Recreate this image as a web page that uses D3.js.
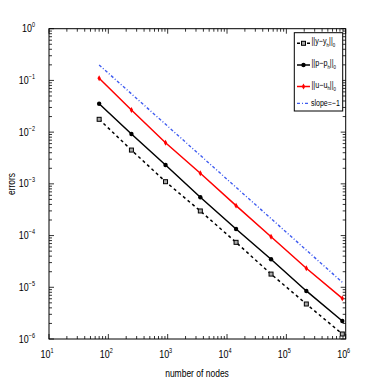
<!DOCTYPE html>
<html>
<head>
<meta charset="utf-8">
<script src="https://cdn.jsdelivr.net/npm/d3@7"></script>
<style>
  body { margin: 0; background: #fff; }
  svg text { font-family: "Liberation Sans", Arial, sans-serif; fill: #000; }
</style>
</head>
<body>
<svg id="chart" width="382" height="382"></svg>
<script>
"use strict";

// number of nodes
const nodes = [70, 245, 920, 3550, 14200, 55200, 217000, 877000];

// error series
const err_y = [0.0177, 4.5e-3, 1.1e-3, 2.99e-4, 7.4e-5, 1.8e-5, 4.75e-6, 1.25e-6];
const err_p = [0.0355, 9.2e-3, 2.32e-3, 5.5e-4, 1.34e-4, 3.48e-5, 8.5e-6, 2.23e-6];
const err_u = [0.110, 0.0268, 6.25e-3, 1.6e-3, 3.79e-4, 9.5e-5, 2.33e-5, 6.1e-6];

// reference slope line, endpoints
const slope_x = [70, 877000];
const slope_v = [0.199, 1.25e-5];

const x_ticks = [1e1, 1e2, 1e3, 1e4, 1e5, 1e6];
const y_ticks = [1e0, 1e-1, 1e-2, 1e-3, 1e-4, 1e-5, 1e-6];

const svg = d3.select("#chart");

const ax_left = 49, ax_right = 345.7, ax_top = 28.7, ax_bottom = 339;

const x_scale = d3.scaleLog().domain([1e1, 1e6]).range([ax_left, ax_right]);
const y_scale = d3.scaleLog().domain([1e-6, 1e0]).range([ax_bottom, ax_top]);

// axes box
svg.append("rect")
  .attr("x", ax_left).attr("y", ax_top)
  .attr("width", ax_right - ax_left).attr("height", ax_bottom - ax_top)
  .attr("fill", "none").attr("stroke", "#000").attr("stroke-width", 1);

// ticks, inward, mirrored
let minor_x = x_scale.ticks();
let minor_y = y_scale.ticks();
let tk = svg.append("g").attr("stroke", "#000").attr("stroke-width", 0.8);
for (let v of minor_x) {
  let is_major = x_ticks.some(t => Math.abs(t - v) / t < 1e-9);
  let len = is_major ? 5 : 3;
  let xx = x_scale(v);
  tk.append("line").attr("x1", xx).attr("x2", xx).attr("y1", ax_bottom).attr("y2", ax_bottom - len);
  tk.append("line").attr("x1", xx).attr("x2", xx).attr("y1", ax_top).attr("y2", ax_top + len);
}
for (let v of minor_y) {
  let is_major = y_ticks.some(t => Math.abs(t - v) / t < 1e-9);
  let len = is_major ? 5 : 3;
  let yy = y_scale(v);
  tk.append("line").attr("y1", yy).attr("y2", yy).attr("x1", ax_left).attr("x2", ax_left + len);
  tk.append("line").attr("y1", yy).attr("y2", yy).attr("x1", ax_right).attr("x2", ax_right - len);
}

// tick labels (condensed like the original)
for (let v of x_ticks) {
  let t = svg.append("text")
    .attr("transform", "translate(" + (x_scale(v) - 2) + ",358) scale(0.85,1)")
    .attr("text-anchor", "middle").attr("font-size", 10.5);
  t.append("tspan").text("10");
  t.append("tspan").attr("dy", -5).attr("font-size", 6.5).text(Math.round(Math.log10(v)));
}
for (let v of y_ticks) {
  let e = Math.round(Math.log10(v));
  let t = svg.append("text")
    .attr("transform", "translate(35," + (y_scale(v) + 3.5) + ") scale(0.85,1)")
    .attr("text-anchor", "end").attr("font-size", 10.5);
  t.append("tspan").text("10");
  t.append("tspan").attr("dy", -5).attr("font-size", 6.5).text(e === 0 ? "0" : "\u2212" + (-e));
}

// axis titles
svg.append("text")
  .attr("transform", "translate(197,377) scale(0.85,1)")
  .attr("text-anchor", "middle").attr("font-size", 10)
  .text("number of nodes");
svg.append("text")
  .attr("transform", "translate(15,184) rotate(-90) scale(0.85,1)")
  .attr("text-anchor", "middle").attr("font-size", 10)
  .text("errors");

// series
const line_gen = d3.line().x(d => x_scale(d[0])).y(d => y_scale(d[1]));

svg.append("path")
  .datum(d3.zip(slope_x, slope_v))
  .attr("d", line_gen)
  .attr("fill", "none").attr("stroke", "#3f5cf0").attr("stroke-width", 1.4)
  .attr("stroke-dasharray", "3,2,1,2");

svg.append("path")
  .datum(d3.zip(nodes, err_u))
  .attr("d", line_gen)
  .attr("fill", "none").attr("stroke", "#ff0000").attr("stroke-width", 1.5);

svg.append("path")
  .datum(d3.zip(nodes, err_p))
  .attr("d", line_gen)
  .attr("fill", "none").attr("stroke", "#000").attr("stroke-width", 1.5);

svg.append("path")
  .datum(d3.zip(nodes, err_y))
  .attr("d", line_gen)
  .attr("fill", "none").attr("stroke", "#000").attr("stroke-width", 1.5)
  .attr("stroke-dasharray", "3,3");

// markers
const mk = svg.append("g");
mk.selectAll(".m_y").data(d3.zip(nodes, err_y)).join("rect")
  .attr("x", d => x_scale(d[0]) - 2).attr("y", d => y_scale(d[1]) - 2)
  .attr("width", 4).attr("height", 4)
  .attr("fill", "#aaa").attr("stroke", "#000").attr("stroke-width", 1);
mk.selectAll(".m_p").data(d3.zip(nodes, err_p)).join("circle")
  .attr("cx", d => x_scale(d[0])).attr("cy", d => y_scale(d[1])).attr("r", 2.2)
  .attr("fill", "#000");
mk.selectAll(".m_u").data(d3.zip(nodes, err_u)).join("path")
  .attr("transform", d => "translate(" + x_scale(d[0]) + "," + y_scale(d[1]) + ")")
  .attr("d", d3.symbol(d3.symbolDiamond, 10))
  .attr("fill", "#ff0000");

// legend
const lg_x = 294.3, lg_y = 32.7, lg_w = 48.4, lg_h = 78.3;
svg.append("rect")
  .attr("x", lg_x).attr("y", lg_y).attr("width", lg_w).attr("height", lg_h)
  .attr("fill", "#fff").attr("stroke", "#000").attr("stroke-width", 1);

const legend_items = [
  { a: "y", b: "y", color: "#000", dash: "3,2", mark: "rect", ly: 43.3 },
  { a: "p", b: "p", color: "#000", dash: null, mark: "circle", ly: 65 },
  { a: "u", b: "u", color: "#ff0000", dash: null, mark: "diamond", ly: 86.5 },
  { a: null, b: null, color: "#3f5cf0", dash: "3,2,1,2", mark: null, ly: 103.3 }
];

for (let it of legend_items) {
  svg.append("line")
    .attr("x1", 297).attr("x2", 310).attr("y1", it.ly).attr("y2", it.ly)
    .attr("stroke", it.color).attr("stroke-width", it.mark ? 1.5 : 1.3)
    .attr("stroke-dasharray", it.dash);
  if (it.mark === "rect") {
    svg.append("rect").attr("x", 301.5).attr("y", it.ly - 2).attr("width", 4).attr("height", 4)
      .attr("fill", "#aaa").attr("stroke", "#000");
  } else if (it.mark === "circle") {
    svg.append("circle").attr("cx", 303.5).attr("cy", it.ly).attr("r", 2.2).attr("fill", "#000");
  } else if (it.mark === "diamond") {
    svg.append("path").attr("transform", "translate(303.5," + it.ly + ")")
      .attr("d", d3.symbol(d3.symbolDiamond, 10)).attr("fill", "#ff0000");
  }
  let t = svg.append("text").attr("font-size", 9);
  if (it.a) {
    t.attr("transform", "translate(311.5," + (it.ly + 1) + ") scale(0.8,1)");
    t.append("tspan").text("||" + it.a + "\u2212" + it.b);
    t.append("tspan").attr("dy", 2.5).attr("font-size", 5.5).text("h");
    t.append("tspan").attr("dy", -2.5).text("||");
    t.append("tspan").attr("dy", 3).attr("font-size", 5.5).text("0");
  } else {
    t.attr("transform", "translate(311," + (it.ly + 3) + ") scale(0.78,1)")
      .text("slope=\u22121");
  }
}
</script>
</body>
</html>
